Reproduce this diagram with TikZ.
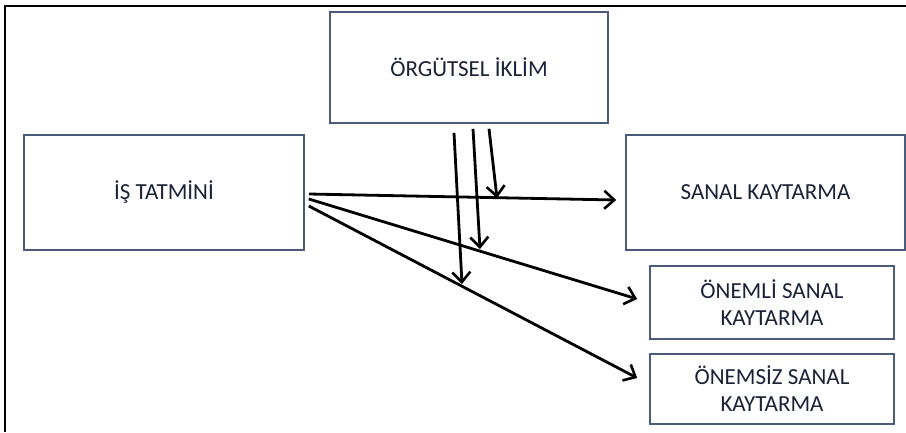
\documentclass[tikz,border=0pt]{standalone}
\usepackage{fontspec}
\setmainfont{Carlito}
\usetikzlibrary{arrows.meta,calc}
\definecolor{boxline}{HTML}{4A5B7C}
\definecolor{boxtext}{HTML}{1A2238}

\begin{document}
\begin{tikzpicture}[x=1pt,y=-1pt,
  kutu/.style={draw=boxline,line width=1.6pt,fill=white,inner sep=0pt,align=center,
    text=boxtext,font=\fontsize{23}{27}\selectfont},
  ok/.style={line width=2.8pt,-{Straight Barb[length=10pt,width=18pt,line width=2.6pt]}}]
\useasboundingbox (0,0) rectangle (906,432);
% Draw the frame
\draw[line width=1.8pt] (5,432) -- (5,6) -- (906,6);
% Draw the boxes
\node[kutu,minimum width=278pt,minimum height=111pt] (iklim) at (469,67.5) {ÖRGÜTSEL İKLİM};
\node[kutu,minimum width=280pt,minimum height=115pt] (tatmin) at (164,192.5) {İŞ TATMİNİ};
\node[kutu,minimum width=279pt,minimum height=115pt] (kaytarma) at (765.5,192.5) {SANAL KAYTARMA};
\node[kutu,minimum width=244pt,minimum height=73pt] (onemli) at (772,302.5) {ÖNEMLİ SANAL\\KAYTARMA};
\node[kutu,minimum width=244pt,minimum height=70pt] (onemsiz) at (772,389) {ÖNEMSİZ SANAL\\KAYTARMA};
% Draw the arrows from job satisfaction
\draw[ok] ($(tatmin.east)+(4,1.5)$) -- ($(kaytarma.west)+(-9,7.5)$);
\draw[ok] ($(tatmin.east)+(4,6.5)$) -- ($(onemli.west)+(-12,-3.5)$);
\draw[ok] ($(tatmin.east)+(4,13.5)$) -- ($(onemsiz.west)+(-12,-11)$);
% Draw the arrows from climate onto the lines
\coordinate (u1) at (497,198);
\coordinate (u2) at (480,249);
\coordinate (u3) at (462,284);
\draw[ok] ($(iklim.south)+(20,5)$) -- (u1);
\draw[ok] ($(iklim.south)+(4,5)$) -- (u2);
\draw[ok] ($(iklim.south)+(-15,9)$) -- (u3);
\end{tikzpicture}
\end{document}
